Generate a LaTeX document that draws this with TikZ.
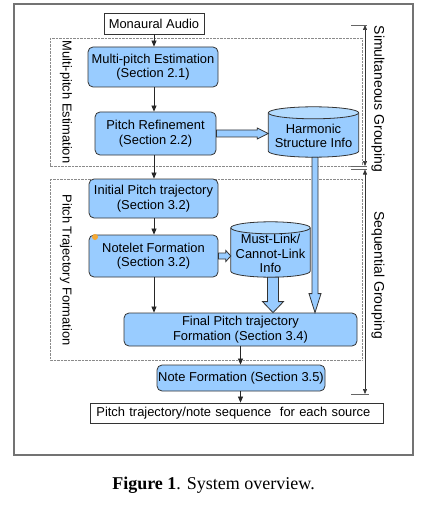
\documentclass[tikz,border=0pt]{standalone}
\usepackage{fontspec}
\setmainfont{Liberation Sans}
\newfontfamily\capfont{Liberation Serif}
\usetikzlibrary{arrows.meta,calc}
\definecolor{boxblue}{HTML}{99CCFF}
\definecolor{topblue}{HTML}{B3DBFF}
\definecolor{edgegray}{HTML}{333333}
\definecolor{dotgray}{HTML}{8A8A8A}
\definecolor{dotorange}{HTML}{F5A833}
\tikzset{
  base/.style={inner sep=0pt, align=center, font=\fontsize{12.9}{14.4}\selectfont},
  proc/.style={base, draw=edgegray, fill=boxblue, rounded corners=5pt, line width=0.8pt},
  iobox/.style={base, draw=edgegray, fill=white, line width=0.8pt},
  cylbox/.style={base},
  cylpath/.style={draw=edgegray, fill=boxblue, line width=0.8pt},
  cyltop/.style={draw=edgegray, fill=topblue, line width=0.8pt},
  thin/.style={draw=black!85, line width=0.7pt, -{Triangle[length=6pt,width=5pt]}},
  fat/.style={draw=edgegray, fill=boxblue, line width=0.8pt, line join=miter},
  grp/.style={draw=dotgray, line width=0.8pt, dash pattern=on 0.7pt off 0.7pt},
  dimline/.style={draw=black!80, line width=0.6pt},
  dimtick/.style={draw=black!60, line width=0.8pt},
  vlabel/.style={inner sep=0pt, rotate=-90},
}
\begin{document}
\begin{tikzpicture}[x=1pt,y=1pt]
\useasboundingbox (0,0) rectangle (429,-505);
% outer frame
\draw[draw=black!55, line width=1.3pt] (14,-4) rectangle (413,-455);
% grouping boxes
\draw[grp] (50,-38) rectangle (362,-166);
\draw[grp] (50,-179) rectangle (362,-360);
\node[vlabel, font=\fontsize{12.9}{14}\selectfont] (lmpe) at (66,-102) {Multi-pitch Estimation};
\node[vlabel, font=\fontsize{12.9}{14}\selectfont] (lptf) at (66,-270) {Pitch Trajectory Formation};
% nodes
\node[iobox, minimum width=100pt, minimum height=21pt] (audio) at (154,-23.5) {Monaural Audio};
\node[proc, minimum width=130pt, minimum height=40pt] (mpe) at (153,-67) {Multi-pitch Estimation\\(Section 2.1)};
\node[proc, minimum width=121pt, minimum height=43pt] (pr) at (155.5,-133.5) {Pitch Refinement\\(Section 2.2)};
\node[proc, minimum width=129pt, minimum height=39pt] (ipt) at (153.5,-198.5) {Initial Pitch trajectory\\(Section 3.2)};
\node[proc, minimum width=129pt, minimum height=42pt] (nf) at (153.5,-256) {Notelet Formation\\(Section 3.2)};
\node[proc, minimum width=233pt, minimum height=33pt] (fpt) at (240.5,-329.5) {Final Pitch trajectory\\Formation (Section 3.4)};
\node[proc, minimum width=168pt, minimum height=26pt] (note) at (241,-378) {Note Formation (Section 3.5)};
\node[iobox, text width=281pt, inner xsep=6pt, minimum height=20pt, align=left, anchor=west] (out) at (90,-413) {Pitch trajectory/note sequence\ \ for each source};
% cylinders
\node[cylbox, minimum width=90pt, minimum height=50pt] (hsi) at (313.5,-132) {};
\path[cylpath] let \p1=(hsi.north west), \p2=(hsi.south east) in
  (\x1,\y1-6pt) -- (\x1,\y2+6pt) arc[start angle=180, end angle=360, x radius={(\x2-\x1)/2}, y radius=6pt] -- (\x2,\y1-6pt);
\path[cyltop] let \p1=(hsi.north west), \p2=(hsi.south east) in
  ({(\x1+\x2)/2},\y1-6pt) ellipse[x radius={(\x2-\x1)/2}, y radius=6pt];
\node[base] at ([yshift=-4pt]hsi.center) {Harmonic\\Structure Info};
\node[cylbox, minimum width=79pt, minimum height=55pt] (ml) at (270.5,-249.5) {};
\path[cylpath] let \p1=(ml.north west), \p2=(ml.south east) in
  (\x1,\y1-6pt) -- (\x1,\y2+6pt) arc[start angle=180, end angle=360, x radius={(\x2-\x1)/2}, y radius=6pt] -- (\x2,\y1-6pt);
\path[cyltop] let \p1=(ml.north west), \p2=(ml.south east) in
  ({(\x1+\x2)/2},\y1-6pt) ellipse[x radius={(\x2-\x1)/2}, y radius=6pt];
\node[base] at ([yshift=-4pt]ml.center) {Must-Link/\\Cannot-Link\\Info};
% orange marker
\fill[dotorange] (95,-237) circle (3pt);
% thin arrows
\coordinate (colx) at (154,0);
\draw[thin] (audio.south) -- (audio.south |- mpe.north);
\draw[thin] (colx |- mpe.south) -- (colx |- pr.north);
\draw[thin] (colx |- pr.south) -- (colx |- ipt.north);
\draw[thin] (colx |- ipt.south) -- (colx |- nf.north);
\draw[thin] (colx |- nf.south) -- (colx |- fpt.north);
\draw[thin] (fpt.south) -- (fpt.south |- note.north);
\draw[thin] (fpt.south |- note.south) -- (fpt.south |- out.north);
% fat arrows
\path[fat] let \p1=(pr.east), \p2=(hsi.west) in
  (\x1,\y1+3.5pt) -- (\x2-11pt,\y1+3.5pt) -- (\x2-11pt,\y1+5.5pt) -- (\x2,\y1) -- (\x2-11pt,\y1-5.5pt) -- (\x2-11pt,\y1-3.5pt) -- (\x1,\y1-3.5pt) -- cycle;
\path[fat] let \p1=(nf.east), \p2=(ml.west) in
  (\x1,\y1+3pt) -- (\x2-5pt,\y1+3pt) -- (\x2-5pt,\y1+5.5pt) -- (\x2,\y1) -- (\x2-5pt,\y1-5.5pt) -- (\x2-5pt,\y1-3pt) -- (\x1,\y1-3pt) -- cycle;
\coordinate (mlx) at (273,0);
\path[fat] let \p1=(mlx |- ml.south), \p2=(mlx |- fpt.north) in
  (\x1-5.5pt,\y1) -- (\x1-5.5pt,\y2+11pt) -- (\x1-10.5pt,\y2+11pt) -- (\x1,\y2) -- (\x1+10.5pt,\y2+11pt) -- (\x1+5.5pt,\y2+11pt) -- (\x1+5.5pt,\y1) -- cycle;
\coordinate (hsx) at (315,0);
\path[fat] let \p1=(hsx |- hsi.south), \p2=(hsx |- fpt.north) in
  (\x1-3pt,\y1) -- (\x1-3pt,\y2+19pt) -- (\x1-6pt,\y2+19pt) -- (\x1,\y2) -- (\x1+6pt,\y2+19pt) -- (\x1+3pt,\y2+19pt) -- (\x1+3pt,\y1) -- cycle;
% dimension lines
\coordinate (s1) at (365,-25);
\coordinate (s2) at (365,-166);
\coordinate (q1) at (365,-169.5);
\coordinate (q2) at (365,-394);
\draw[dimline, {Triangle[length=5pt,width=4pt]}-{Triangle[length=5pt,width=4pt]}] (s1) -- (s2);
\draw[dimline, {Triangle[length=5pt,width=4pt]}-{Triangle[length=5pt,width=4pt]}] (q1) -- (q2);
\draw[dimtick] ([xshift=-14pt]s1) -- ([xshift=2pt]s1);
\draw[dimtick] ([xshift=-14pt]s2) -- ([xshift=2pt]s2);
\draw[dimtick] ([xshift=-14pt]q1) -- ([xshift=2pt]q1);
\draw[dimtick] ([xshift=-14pt]q2) -- ([xshift=4pt]q2);
\node[vlabel, font=\fontsize{14}{15}\selectfont] (lsim) at (378,-99) {Simultaneous Grouping};
\node[vlabel, font=\fontsize{14}{15}\selectfont] (lseq) at (378,-275) {Sequential Grouping};
% caption
\node[inner sep=0pt, font=\capfont\fontsize{18}{20}\selectfont] (cap) at (213.5,-485) {\textbf{Figure 1}. System overview.};
\end{tikzpicture}
\end{document}
